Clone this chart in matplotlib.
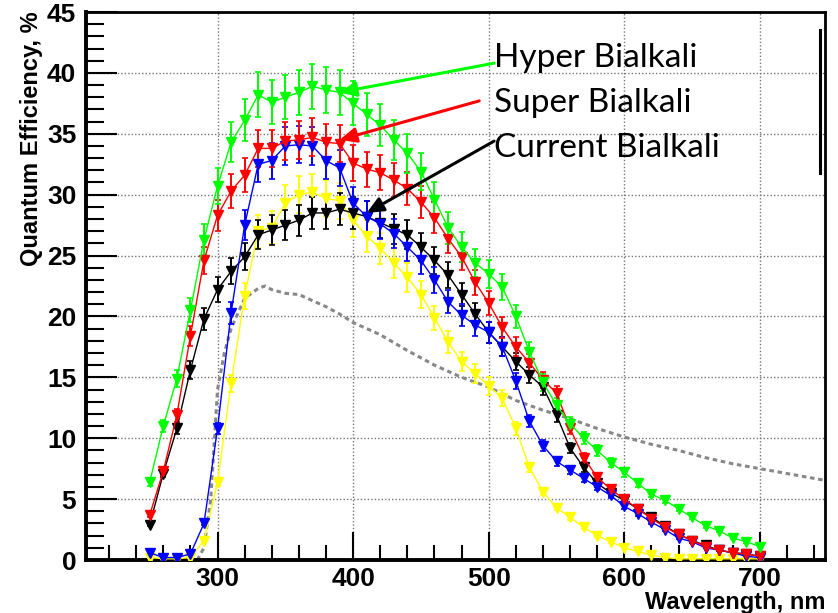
import matplotlib
matplotlib.use('Agg')
import matplotlib.pyplot as plt
from matplotlib.ticker import MultipleLocator
from matplotlib.lines import Line2D
import numpy as np

# wavelength grid of the measured points, nm
wl = list(range(250, 701, 10))

hyper = [6.4, 11.0, 14.9, 20.5, 26.3, 30.7, 34.3, 36.1, 38.2, 37.6,
         38.0, 38.4, 38.9, 38.6, 38.4, 37.5, 36.6, 35.7, 34.5, 33.4,
         31.9, 29.6, 27.3, 25.7, 24.4, 23.5, 22.4, 20.0, 17.1, 14.6,
         12.7, 11.2, 10.0, 9.0, 8.0, 7.2, 6.3, 5.4, 4.9, 4.2,
         3.5, 2.8, 2.4, 1.8, 1.5, 1.1]
sup = [3.7, 7.3, 11.9, 18.4, 24.6, 28.3, 30.3, 31.6, 33.8, 33.8,
       34.4, 34.5, 34.7, 34.3, 34.2, 32.6, 32.1, 31.8, 31.2, 30.5,
       29.4, 28.1, 26.4, 24.9, 22.8, 21.1, 19.1, 17.5, 16.2, 14.8,
       13.7, 10.8, 8.4, 6.8, 5.8, 5.0, 4.2, 3.4, 2.7, 2.1,
       1.6, 1.1, 0.8, 0.6, 0.5, 0.3]
current = [2.9, 7.1, 10.8, 15.6, 19.8, 22.2, 23.7, 24.9, 26.7, 27.1,
           27.5, 27.9, 28.5, 28.5, 28.8, 28.5, 28.2, 27.7, 27.2, 26.7,
           25.7, 24.6, 23.4, 21.8, 20.2, 18.7, 17.5, 16.3, 15.2, 14.2,
           11.9, 9.2, 7.6, 6.3, 5.5, 4.9, 4.2, 3.5, 2.8, 2.1,
           1.6, 1.2, 0.8, 0.6, 0.5, 0.3]
blue = [0.6, 0.2, 0.2, 0.5, 3.0, 10.8, 20.3, 27.5, 32.5, 32.8,
        34.0, 34.1, 34.0, 32.8, 32.2, 29.3, 28.2, 27.6, 26.8, 25.7,
        24.6, 23.0, 21.2, 20.1, 19.3, 18.7, 17.5, 14.7, 11.4, 9.4,
        8.1, 7.4, 6.7, 6.0, 5.3, 4.4, 3.8, 3.1, 2.5, 1.8,
        1.5, 1.0, 0.8, 0.6, 0.3, 0.2]
yellow = [0.2, 0.1, 0.1, 0.2, 1.6, 6.4, 14.5, 21.7, 27.0, 27.3,
          29.3, 30.0, 30.2, 29.7, 29.5, 27.9, 26.6, 25.6, 24.4, 23.2,
          21.8, 19.9, 17.9, 16.3, 15.3, 14.3, 13.3, 10.8, 7.6, 5.6,
          4.3, 3.5, 2.7, 2.0, 1.5, 1.0, 0.7, 0.4, 0.2, 0.1,
          0.1, 0.1, 0.1, 0.1, 0.1, 0.1]

# relative uncertainty
rel_err = {'hyper': 0.048, 'sup': 0.045, 'current': 0.045, 'blue': 0.045, 'yellow': 0.05}

# gray dotted reference curve
ref_wl = [285, 290, 295, 300, 305, 310, 320, 330, 335, 340, 350, 360, 370, 380,
          390, 400, 420, 440, 460, 480, 500, 520, 540, 560, 580, 600, 620,
          640, 660, 680, 700, 720, 740, 750]
ref_qe = [0.0, 1.0, 5.0, 14.0, 17.0, 19.0, 21.5, 22.3, 22.5, 22.2, 21.9, 21.8,
          21.3, 20.8, 20.2, 19.5, 18.5, 17.2, 16.0, 15.0, 14.2, 13.1, 12.3,
          11.6, 10.8, 10.1, 9.5, 9.0, 8.4, 7.9, 7.5, 7.1, 6.7, 6.5]

labels = ['Hyper Bialkali', 'Super Bialkali', 'Current Bialkali']

plt.rcParams['font.family'] = ['Liberation Sans', 'DejaVu Sans']

fig = plt.figure(figsize=(8.38, 6.13), dpi=100)
ax = fig.add_axes([86 / 838, 1 - 560 / 613, 739 / 838, 548 / 613])

ax.plot(ref_wl, ref_qe, color='#888888', ls=(0, (1.5, 1.2)), lw=2.2, zorder=2)

series = [(yellow, '#ffff00', 'yellow'), (current, 'black', 'current'),
          (blue, '#0000ff', 'blue'), (sup, '#ff0000', 'sup'),
          (hyper, '#00ff00', 'hyper')]
for vals, col, key in series:
    v = np.array(vals)
    ax.errorbar(wl, v, yerr=v * rel_err[key], color=col, lw=1.0, elinewidth=1.4,
                capsize=2.5, capthick=1.2, marker='v', ms=6.5, mec=col, mfc=col,
                zorder=3)

ax.set_xlim(203, 748)
ax.set_ylim(0, 45)
ax.xaxis.set_major_locator(MultipleLocator(100))
ax.xaxis.set_minor_locator(MultipleLocator(20))
ax.yaxis.set_major_locator(MultipleLocator(5))
ax.yaxis.set_minor_locator(MultipleLocator(1))
ax.grid(True, which='major', color='#777777', ls=(0, (1, 1.5)), lw=1.0)
ax.tick_params(which='major', direction='in', length=20, width=1.5, labelsize=19, pad=5)
ax.tick_params(which='minor', direction='in', length=11, width=1.5)
ax.tick_params(axis='y', which='major', length=22, pad=7)
ax.tick_params(axis='y', which='minor', length=13)
for t in ax.get_xticklabels() + ax.get_yticklabels():
    t.set_fontweight('bold')

for s in ['left', 'bottom']:
    ax.spines[s].set_linewidth(2.8)
for s in ['top', 'right']:
    ax.spines[s].set_linewidth(2.0)

ax.set_ylabel('Quantum Efficiency, %', fontsize=17, fontweight='bold',
              ha='right', va='center')
ax.yaxis.set_label_coords(-54 / 739, 1.0 + 1 / 548)
ax.set_xlabel('Wavelength, nm', fontsize=17, fontweight='bold',
              ha='right', va='center')
ax.xaxis.set_label_coords(1.0, -42 / 548)

# annotations with arrows
text_pos = [(504, 41.2), (504, 37.5), (504, 33.8)]
tips = [(wl[14], hyper[14]), (wl[14], sup[14] + 0.3), (wl[16], current[16] + 0.3)]
tails = [(504, 40.8), (493, 37.7), (504, 34.4)]
arrow_cols = ['#00ff00', '#ff0000', 'black']
for lab, tp, tip, tail, col in zip(labels, text_pos, tips, tails, arrow_cols):
    ax.text(tp[0], tp[1], lab, fontsize=24, family=['Lato', 'DejaVu Sans'],
            ha='left', va='center', zorder=5)
    ax.annotate('', xy=tip, xytext=tail,
                arrowprops=dict(arrowstyle='-|>,head_length=1.0,head_width=0.45',
                                color=col, lw=2.2, shrinkA=0, shrinkB=0),
                zorder=5)

# stray vertical bar on the right
fig.add_artist(Line2D([820 / 838, 820 / 838], [1 - 30 / 613, 1 - 173 / 613],
                      color='black', lw=2.2))

fig.savefig('out.png', dpi=100)
